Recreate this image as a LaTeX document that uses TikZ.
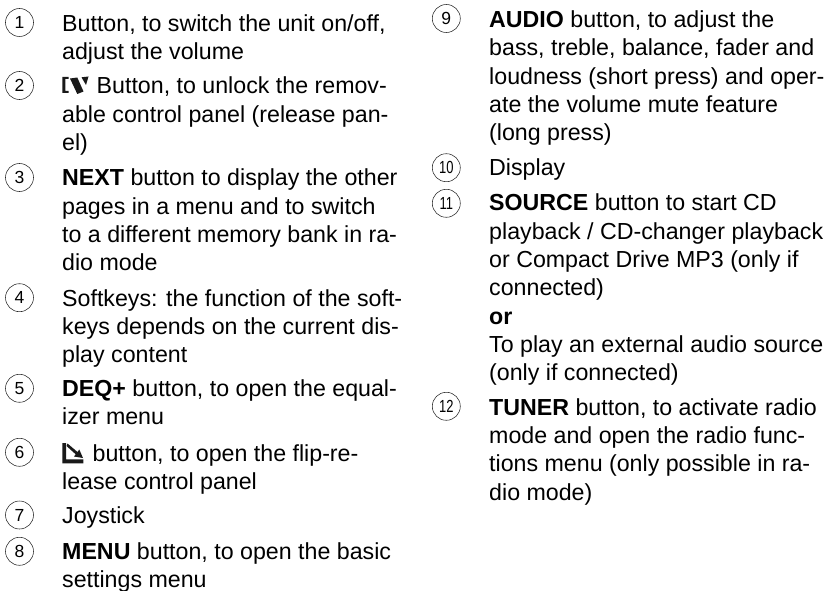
\documentclass[tikz,border=0pt]{standalone}
\usepackage{graphicx}
\usepackage{fontspec}
\setmainfont{Liberation Sans}
\newcommand{\fs}{\rule{0pt}{20pt}}
\newcommand{\cond}[1]{\scalebox{0.74}[1]{#1}}
\tikzset{
  num/.style={draw=black!85,line width=0.55pt,circle,minimum size=28pt,inner sep=0pt,font=\fontsize{17.5}{17.5}\selectfont},
  body/.style={anchor=north west,inner sep=0pt,align=left,font=\fontsize{23.2}{28.3}\selectfont},
  icon/.style={fill=black!90,draw=none}
}
\begin{document}
\begin{tikzpicture}[x=1pt,y=-1pt]
\useasboundingbox (0,0) rectangle (828,591);
\node[num] (n1) at (19.5,22.5) {1};
\node[body] (t1) at (62,11) {\fs Button, to switch the unit on/off,\\adjust the volume};
\node[num] (n2) at (19.5,85.5) {2};
\node[body] (t2) at (62,73.7) {\fs\hspace*{34.5pt}Button, to unlock the remov-\\able control panel (release pan-\\el)};
\node[num] (n3) at (19.5,177.5) {3};
\node[body] (t3) at (62,165.7) {\fs\textbf{NEXT} button to display the other\\pages in a menu and to switch\\to a different memory bank in ra-\\dio mode};
\node[num] (n4) at (19.5,297.7) {4};
\node[body] (t4) at (62,286) {\fs Softkeys: the function of the soft-\\keys depends on the current dis-\\play content};
\node[num] (n5) at (19.5,388.3) {5};
\node[body] (t5) at (62,376) {\fs\textbf{DEQ+} button, to open the equal-\\izer menu};
\node[num] (n6) at (19.5,452.3) {6};
\node[body] (t6) at (62,441) {\fs\hspace*{30.5pt}button, to open the flip-re-\\lease control panel};
\node[num] (n7) at (19.5,515) {7};
\node[body] (t7) at (62,503.3) {\fs Joystick};
\node[num] (n8) at (19.5,551.3) {8};
\node[body] (t8) at (62,539.3) {\fs\textbf{MENU} button, to open the basic\\settings menu};
\node[num] (n9) at (446.3,18.5) {9};
\node[body] (t9) at (489,7.3) {\fs\textbf{AUDIO} button, to adjust the\\bass, treble, balance, fader and\\loudness (short press) and oper-\\ate the volume mute feature\\(long press)};
\node[num] (n10) at (446.3,167.7) {\cond{10}};
\node[body] (t10) at (489,155.7) {\fs Display};
\node[num] (n11) at (446.3,203.3) {\cond{11}};
\node[body] (t11) at (489,190.7) {\fs\textbf{SOURCE} button to start CD\\playback / CD-changer playback\\or Compact Drive MP3 (only if\\connected)\\\textbf{or}\\To play an external audio source\\(only if connected)};
\node[num] (n12) at (446.3,406.3) {\cond{12}};
\node[body] (t12) at (489,395) {\fs\textbf{TUNER} button, to activate radio\\mode and open the radio func-\\tions menu (only possible in ra-\\dio mode)};
% release icon
\fill[icon] (62.3,77) -- (68.5,77) -- (68.5,79) -- (65.3,79) -- (65.3,91) -- (68.5,91) -- (68.5,93) -- (62.3,93) -- cycle;
\fill[icon] (70,78.5) -- (77.3,77.5) -- (83.5,91.5) -- (77.3,94) -- cycle;
\fill[icon] (81.5,77.3) -- (88.5,76.5) -- (86,85) -- cycle;
% flip icon
\fill[icon] (62.3,443) -- (66,443) -- (66,459.3) -- (83.3,459.3) -- (83.3,463.3) -- (62.3,463.3) -- cycle;
\fill[icon] (67.5,443.5) -- (77.5,452) -- (79.3,449.5) -- (83,458) -- (74,456.5) -- (75.7,454.3) -- (66.5,446) -- cycle;
\end{tikzpicture}
\end{document}
